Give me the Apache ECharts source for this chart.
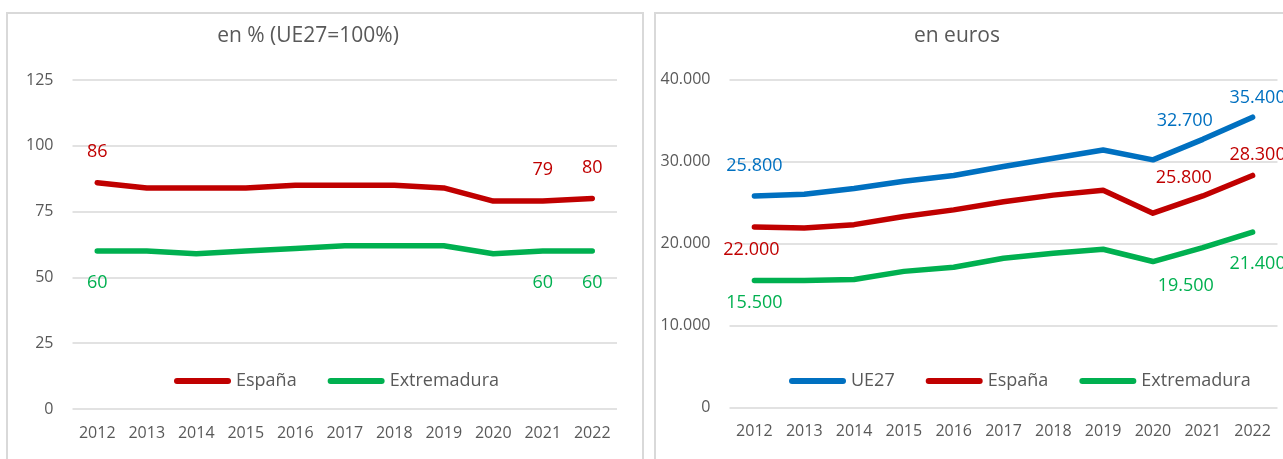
<!DOCTYPE html>
<html>
<head>
<meta charset="utf-8">
<script src="https://cdn.jsdelivr.net/npm/echarts@6/dist/echarts.min.js"></script>
<style>
  html, body { margin: 0; padding: 0; background: #fff; }
  #main { width: 1283px; height: 459px; }
</style>
</head>
<body>
<div id="main"></div>
<script>
// datos
var years = ['2012', '2013', '2014', '2015', '2016', '2017', '2018', '2019', '2020', '2021', '2022'];
var pctEspana = [86, 84, 84, 84, 85, 85, 85, 84, 79, 79, 80];
var pctExtremadura = [60, 60, 59, 60, 61, 62, 62, 62, 59, 60, 60];
var eurUE27 = [25800, 26000, 26700, 27600, 28300, 29400, 30400, 31400, 30200, 32700, 35400];
var eurEspana = [22000, 21900, 22300, 23300, 24100, 25100, 25900, 26500, 23700, 25800, 28300];
var eurExtremadura = [15500, 15500, 15600, 16600, 17100, 18200, 18800, 19300, 17800, 19500, 21400];
var pctTicks = [0, 25, 50, 75, 100, 125];
var eurTicks = [0, 10000, 20000, 30000, 40000];
var labelIdx = [0, 9, 10];

var ROJO = '#C00000', VERDE = '#00B050', AZUL = '#0070C0', GRIS = '#595959';
var FONT = 'Open Sans';
// icono de leyenda: línea gruesa con extremos redondeados
var ICONO = 'path://M3,0 H54 A3,3 0 0 1 54,6 H3 A3,3 0 0 1 3,0 Z';

function miles(v) {
    return String(v).replace(/\B(?=(\d{3})+(?!\d))/g, '.');
}
function ident(v) { return String(v); }

// etiquetas: desplazamiento [dx, dy] para cada punto con etiqueta
function serie(name, values, color, idx, offsets, fmt) {
    var data = values.map(function (v, i) {
        var k = labelIdx.indexOf(i);
        if (k < 0) return v;
        return {
            value: v,
            label: {
                show: true, position: 'inside', offset: offsets[k],
                color: color, fontFamily: FONT, fontSize: 18,
                formatter: function (p) { return fmt(p.value); }
            }
        };
    });
    return {
        name: name, type: 'line', xAxisIndex: idx, yAxisIndex: idx,
        data: data, symbol: 'circle', symbolSize: 1, showAllSymbol: true,
        itemStyle: { color: color },
        lineStyle: { color: color, width: 5.5, cap: 'round', join: 'round' },
        emphasis: { disabled: true },
        animation: false
    };
}

function ejeX(idx) {
    return {
        type: 'category', gridIndex: idx, data: years, boundaryGap: true,
        axisLine: { show: false }, axisTick: { show: false },
        axisLabel: { color: GRIS, fontFamily: FONT, fontSize: 16, margin: 16 }
    };
}
function ejeY(idx, ticks, fmt) {
    return {
        type: 'value', gridIndex: idx, min: ticks[0], max: ticks[ticks.length - 1],
        interval: ticks[1] - ticks[0],
        axisLine: { show: false }, axisTick: { show: false },
        splitLine: { lineStyle: { color: '#d9d9d9', width: 1.5 } },
        axisLabel: { color: GRIS, fontFamily: FONT, fontSize: 16, margin: 19, formatter: fmt }
    };
}
function leyenda(left, names) {
    return {
        left: left, top: 372, padding: 0, data: names, icon: ICONO,
        itemWidth: 57, itemHeight: 6, itemGap: 31,
        textStyle: { color: GRIS, fontFamily: FONT, fontSize: 18 },
        selectedMode: false
    };
}

var myChart = echarts.init(document.getElementById('main'));
var option = {
    animation: false,
    backgroundColor: '#fff',
    grid: [
        { left: 72.5, width: 544.5, top: 80, height: 329 },
        { left: 729.5, width: 548, top: 79.5, height: 328 }
    ],
    xAxis: [ejeX(0), ejeX(1)],
    yAxis: [ejeY(0, pctTicks, ident), ejeY(1, eurTicks, miles)],
    legend: [
        leyenda(174, ['España', 'Extremadura']),
        leyenda(789, ['UE27', 'España', 'Extremadura'])
    ],
    graphic: [
        { type: 'rect', shape: { x: 7, y: 13, width: 636, height: 460 },
          style: { fill: 'none', stroke: '#d9d9d9', lineWidth: 2 }, silent: true },
        { type: 'rect', shape: { x: 655, y: 13, width: 660, height: 460 },
          style: { fill: 'none', stroke: '#d9d9d9', lineWidth: 2 }, silent: true },
        { type: 'text', x: 308, y: 36,
          style: { text: 'en % (UE27=100%)', fill: GRIS, font: '21px "Open Sans"', align: 'center', verticalAlign: 'middle' } },
        { type: 'text', x: 957, y: 36,
          style: { text: 'en euros', fill: GRIS, font: '21px "Open Sans"', align: 'center', verticalAlign: 'middle' } }
    ],
    series: [
        serie('España', pctEspana, ROJO, 0, [[0, -31], [0, -31], [0, -31]], ident),
        serie('Extremadura', pctExtremadura, VERDE, 0, [[0, 32], [0, 32], [0, 32]], ident),
        serie('UE27', eurUE27, AZUL, 1, [[0, -30], [-18, -18], [5, -19]], miles),
        serie('España', eurEspana, ROJO, 1, [[-3, 23], [-19, -18], [5, -21]], miles),
        serie('Extremadura', eurExtremadura, VERDE, 1, [[0, 22], [-17, 38], [5, 32]], miles)
    ]
};
myChart.setOption(option);
</script>
</body>
</html>
